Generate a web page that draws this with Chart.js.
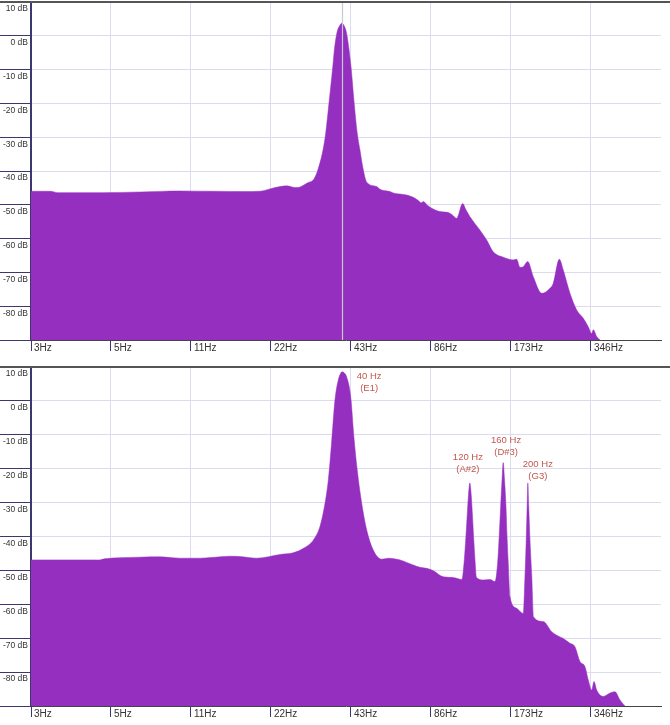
<!DOCTYPE html>
<html>

<head>
    <meta charset="utf-8" />
    <style>
        body { margin: 0; background: #fff; }
        #wrap { position: relative; width: 670px; height: 725px; overflow: hidden; }
        canvas { position: absolute; left: 0; }
    </style>
</head>

<body>
    <div id="wrap">
        <canvas id="topChart" width="670" height="362" style="top:0px"></canvas>
        <canvas id="bottomChart" width="670" height="360" style="top:365px"></canvas>
    </div>

    <script src="https://cdn.jsdelivr.net/npm/chart.js@4.4.0/dist/chart.umd.min.js"></script>

    <script>
        // octave ticks (Hz) and their labels
        const xTickHz = [2.7, 5.4, 10.8, 21.6, 43.2, 86.4, 172.8, 345.6];
        const xTickLabels = ['3Hz', '5Hz', '11Hz', '22Hz', '43Hz', '86Hz', '173Hz', '346Hz'];
        const xMinHz = 2.7;
        const xMaxHz = 634;

        // top spectrum
        const topHz = [2.7, 3.2, 3.4, 5.0, 7.0, 9.8, 13.0, 17.2, 19.6, 21.4, 23.4, 24.8, 26.1, 27.3, 28.5,
            29.8, 31.1, 31.9, 32.7, 33.9, 34.7, 35.8, 36.9, 37.4, 38.2, 39.3, 39.9, 40.8, 41.6, 43.2, 44.3,
            45.6, 46.7, 47.8, 49.5, 54.0, 55.5, 60.6, 62.3, 70.0, 74.1, 77.0, 79.5, 80.8, 84.0, 86.9, 93.4,
            100.4, 104.0, 107.9, 113.7, 117.0, 121.1, 132.1, 140.0, 148.2, 161.7, 176.3, 181.5, 186.8, 192.2,
            199.8, 209.7, 225.5, 242.3, 249.3, 262.7, 271.9, 288.1, 305.3, 323.4, 337.6, 347.7, 352.6, 363.1, 373.7];
        const topDb = [-46.0, -46.0, -46.4, -46.4, -46.2, -45.9, -46.0, -46.1, -46.0, -45.3, -44.6, -44.4, -44.8, -44.9, -44.3,
            -43.4, -42.7, -41.2, -38.7, -33.8, -28.8, -19.0, -9.1, -4.2, 0.7, 3.2, 3.7, 2.8, 0.7, -9.1, -19.0,
            -28.8, -33.8, -38.7, -43.3, -44.6, -45.4, -46.1, -46.5, -47.1, -47.8, -48.6, -49.4, -49.0, -50.2, -51.0, -52.0,
            -52.3, -53.0, -54.0, -49.6, -51.5, -53.5, -57.5, -60.4, -63.9, -65.5, -66.3, -66.1, -68.5, -68.3,
            -66.8, -71.3, -76.2, -74.7, -73.2, -66.1, -69.3, -76.2, -81.1, -83.6, -86.1, -88.1, -87.0, -89.0, -90.0];

        // bottom spectrum
        const bottomHz = [2.7, 4.9, 5.1, 6.9, 8.3, 9.8, 11.7, 13.9, 15.1, 16.5, 19.1, 23.4, 26.2, 28.6, 31.2,
            33.0, 34.5, 35.5, 36.5, 37.6, 38.7, 39.3, 40.0, 40.8, 41.6, 43.1, 44.3, 45.6, 47.4, 49.5, 52.4, 56.4, 59.7,
            64.2, 66.0, 74.1, 78.5, 83.2, 88.2, 96.1, 104.8, 113.0,
            115.0, 116.5, 118.2, 119.5, 121.0, 122.5, 123.8, 125.4, 126.8, 128.0,
            135.9, 144.0, 150.4, 153.9, 156.0, 158.0, 160.0, 161.5, 163.3, 165.5, 167.0, 168.8,
            171.3, 181.5, 192.2, 195.0, 197.0, 198.8, 200.0, 201.5, 204.0, 207.0, 210.0,
            228.7, 245.9, 256.8, 271.9, 288.1, 300.8, 314.2, 328.1, 337.6, 347.7, 354.8, 363.1, 384.5,
            407.5, 425.5, 444.3, 464.1];
        const bottomDb = [-46.9, -46.9, -46.6, -46.1, -46.0, -46.4, -46.4, -46.0, -45.8, -45.9, -46.4, -45.3, -44.8, -43.5, -41.0,
            -37.1, -30.2, -23.3, -12.5, 0.3, 6.2, 7.8, 8.6, 8.2, 7.1, 1.2, -10.6, -20.4, -30.2, -38.1, -44.0, -46.7, -46.4,
            -46.7, -46.9, -48.4, -49.1, -49.4, -50.1, -51.9, -52.1, -52.7,
            -48.0, -42.0, -34.0, -28.0, -24.2, -28.0, -34.0, -42.0, -48.0, -52.0,
            -52.8, -52.7, -53.3, -47.9, -40.0, -31.2, -23.0, -18.2, -23.0, -31.2, -40.0, -47.9,
            -57.8, -61.2, -62.7, -52.0, -42.0, -31.0, -24.2, -31.0, -42.0, -52.0, -63.7,
            -65.1, -68.1, -69.1, -70.1, -71.5, -72.5, -76.9, -78.4, -82.3, -85.3, -82.8, -85.3, -87.2,
            -86.2, -85.8, -88.2, -90.0];

        // marked peaks in the bottom panel
        const peakHz = [40, 120, 160, 200];
        const peakNotes = ['(E1)', '(A#2)', '(D#3)', '(G3)'];
        const cursorHz = 40;

        const purple = '#952fc0';
        const navy = '#3b3870';
        const gridColor = '#dcdcee';
        const labelOffsets = [[27, 5], [-1, -26], [4, -22], [10, -19]];

        function points(hz, db) {
            return hz.map((f, i) => ({ x: f, y: db[i] }));
        }

        // highest value of the bottom series near a frequency
        function peakDb(f) {
            let best = -90;
            bottomHz.forEach((h, i) => {
                if (h > f * 0.96 && h < f * 1.04) best = Math.max(best, bottomDb[i]);
            });
            return best;
        }

        const topBorder = {
            id: 'topBorder',
            afterDraw(chart) {
                const ctx = chart.ctx;
                ctx.save();
                ctx.strokeStyle = '#555';
                ctx.lineWidth = 2;
                ctx.beginPath();
                ctx.moveTo(0, chart.chartArea.top);
                ctx.lineTo(chart.width, chart.chartArea.top);
                ctx.stroke();
                ctx.restore();
            }
        };

        const cursorLine = {
            id: 'cursorLine',
            afterDatasetsDraw(chart) {
                const ctx = chart.ctx;
                const x = Math.round(chart.scales.x.getPixelForValue(cursorHz)) + 0.5;
                ctx.save();
                ctx.strokeStyle = '#c8c8d4';
                ctx.lineWidth = 1.2;
                ctx.beginPath();
                ctx.moveTo(x, chart.chartArea.top);
                ctx.lineTo(x, chart.chartArea.bottom);
                ctx.stroke();
                ctx.restore();
            }
        };

        const peakLabels = {
            id: 'peakLabels',
            afterDatasetsDraw(chart) {
                const ctx = chart.ctx;
                ctx.save();
                ctx.fillStyle = '#c4574c';
                ctx.font = '9.5px "Liberation Sans", Arial, sans-serif';
                ctx.textAlign = 'center';
                ctx.textBaseline = 'middle';
                peakHz.forEach((f, i) => {
                    const x = chart.scales.x.getPixelForValue(f) + labelOffsets[i][0];
                    const y = chart.scales.y.getPixelForValue(peakDb(f)) + labelOffsets[i][1];
                    ctx.fillText(f + ' Hz', x, y);
                    ctx.fillText(peakNotes[i], x, y + 12);
                });
                ctx.restore();
            }
        };

        function makeChart(id, hz, db, xAxisHeight, extraPlugins) {
            return new Chart(document.getElementById(id), {
                type: 'line',
                data: {
                    datasets: [{
                        data: points(hz, db),
                        backgroundColor: purple,
                        borderColor: purple,
                        borderWidth: 0.5,
                        pointRadius: 0,
                        fill: 'start',
                        cubicInterpolationMode: 'monotone'
                    }]
                },
                options: {
                    responsive: false,
                    animation: false,
                    layout: { padding: { top: 2, right: 9, left: 0, bottom: 0 } },
                    plugins: {
                        legend: { display: false },
                        tooltip: { enabled: false }
                    },
                    scales: {
                        x: {
                            type: 'logarithmic',
                            min: xMinHz,
                            max: xMaxHz,
                            afterBuildTicks: axis => {
                                axis.ticks = xTickHz.map(v => ({ value: v }));
                            },
                            afterFit: axis => { axis.height = xAxisHeight; },
                            grid: {
                                color: gridColor,
                                tickColor: navy,
                                tickLength: 11
                            },
                            border: { color: '#444', width: 1 },
                            ticks: {
                                autoSkip: false,
                                maxRotation: 0,
                                align: 'start',
                                labelOffset: 3,
                                padding: -9,
                                color: '#333',
                                font: { family: '"Liberation Sans", Arial, sans-serif', size: 10 },
                                callback: (value, index) => xTickLabels[index]
                            }
                        },
                        y: {
                            min: -90,
                            max: 10,
                            afterFit: axis => { axis.width = 31; },
                            grid: {
                                color: gridColor,
                                tickColor: navy,
                                tickLength: 31
                            },
                            border: { color: navy, width: 2 },
                            ticks: {
                                stepSize: 10,
                                padding: -28,
                                labelOffset: 7,
                                color: '#333',
                                font: { family: '"Liberation Sans", Arial, sans-serif', size: 8.5 },
                                callback: v => v === -90 ? '' : v + ' dB'
                            }
                        }
                    }
                },
                plugins: [topBorder].concat(extraPlugins)
            });
        }

        let topChart = makeChart('topChart', topHz, topDb, 22, [cursorLine]);
        let bottomChart = makeChart('bottomChart', bottomHz, bottomDb, 19, [peakLabels]);
    </script>
</body>

</html>
